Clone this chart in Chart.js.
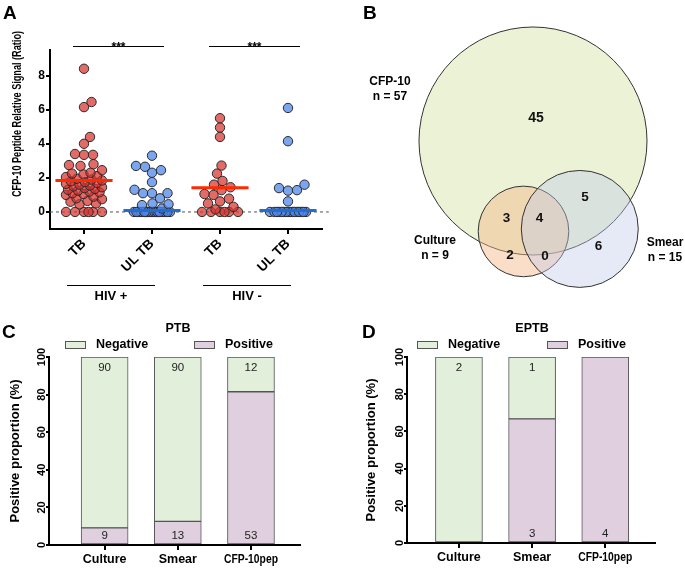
<!DOCTYPE html>
<html>
<head>
<meta charset="utf-8">
<script src="https://cdn.jsdelivr.net/npm/chart.js@4.4.1/dist/chart.umd.min.js"></script>
<style>
  html, body { margin: 0; padding: 0; background: #fff; }
  #wrap { position: relative; width: 685px; height: 570px; overflow: hidden; }
  canvas { position: absolute; }
</style>
</head>
<body>
<div id="wrap">
  <canvas id="chartA" width="340" height="310" style="left:0;top:0"></canvas>
  <canvas id="chartB" width="345" height="300" style="left:340px;top:0"></canvas>
  <canvas id="chartC" width="340" height="270" style="left:0;top:300px"></canvas>
  <canvas id="chartD" width="345" height="270" style="left:340px;top:300px"></canvas>
</div>
<script>
// ---- Panel A: CFP-10 peptide signal per group
const groupLabelsA = ['TB', 'UL TB', 'TB', 'UL TB'];
const hivLabels = ['HIV +', 'HIV -'];
const sigMarks = ['***', '***'];
const hivPosTB = [8.4, 6.45, 6.15, 4.4, 4.0, 3.4, 3.35, 3.35, 2.8, 2.75, 2.7, 2.45, 2.3, 2.25, 2.2, 2.1,
  2.05, 1.95, 1.9, 1.85, 1.8, 1.75, 1.7, 1.65, 1.6, 1.55, 1.5, 1.45, 1.4, 1.35, 1.3, 1.25, 1.2, 1.15,
  1.1, 1.05, 1.0, 0.9, 0.8, 0.75, 0.65, 0.6, 0.5, 0.45, 0, 0, 0, 0, 0, 0];
const hivPosUL = [3.3, 2.7, 2.65, 2.45, 2.3, 1.75, 1.3, 1.1, 1.1, 1.1, 0.8, 0.5, 0.45, 0.4, 0.2,
  0, 0, 0, 0, 0, 0, 0, 0, 0, 0, 0, 0, 0, 0, 0, 0, 0, 0, 0, 0, 0, 0, 0, 0, 0];
const hivNegTB = [5.5, 4.95, 4.4, 2.72, 2.25, 1.82, 1.6, 1.45, 1.28, 1.05, 1.0, 0.78, 0.62, 0.5, 0.3,
  0.15, 0, 0, 0, 0, 0, 0];
const hivNegUL = [6.1, 4.15, 1.6, 1.4, 1.28, 1.25, 0.62, 0, 0, 0, 0, 0, 0, 0, 0, 0, 0, 0, 0, 0, 0, 0, 0];
const meanLinesA = [1.85, 0.08, 1.42, 0.08];
const yTicksA = [0, 2, 4, 6, 8];

// ---- Panel B: Venn counts
const vennSets = ['CFP-10', 'Culture', 'Smear'];
const vennTotals = [57, 9, 15];
// CFP only, CFP+Culture, all three, CFP+Smear, Culture only, Culture+Smear, Smear only
const vennRegions = [45, 3, 4, 5, 2, 0, 6];

// ---- Panels C / D: stacked proportions
const testLabels = ['Culture', 'Smear', 'CFP-10pep'];
const pctTicks = [0, 20, 40, 60, 80, 100];
const ptbPositivePct = [9.1, 12.6, 81.5];
const ptbNegativePct = [90.9, 87.4, 18.5];
const ptbPositiveN = [9, 13, 53];
const ptbNegativeN = [90, 90, 12];
const eptbPositivePct = [0, 66.7, 100];
const eptbNegativePct = [100, 33.3, 0];
const eptbPositiveN = [0, 3, 4];
const eptbNegativeN = [2, 1, 0];

const FONT = '"Liberation Sans", Arial, Helvetica, sans-serif';
Chart.defaults.font.family = FONT;
Chart.defaults.color = '#000';
Chart.defaults.animation = false;

const bold = s => `bold ${s}px ${FONT}`;
function drawText(ctx, txt, x, y, font, o = {}) {
  ctx.save();
  ctx.font = font;
  ctx.fillStyle = o.color || '#000';
  ctx.textAlign = o.align || 'center';
  ctx.textBaseline = o.baseline || 'middle';
  ctx.translate(x, y);
  if (o.rotate) ctx.rotate(o.rotate);
  if (o.maxWidth) ctx.fillText(txt, 0, 0, o.maxWidth);
  else ctx.fillText(txt, 0, 0);
  ctx.restore();
}
function hline(ctx, x1, x2, y, w) {
  ctx.save();
  ctx.strokeStyle = '#000';
  ctx.lineWidth = w || 1;
  ctx.beginPath(); ctx.moveTo(x1, y); ctx.lineTo(x2, y); ctx.stroke();
  ctx.restore();
}

// simple beeswarm so dots don't overlap (capped width like GraphPad)
const PX_X = 68, PX_Y = 179 / 10.5, DOT_R = 4.7;
function swarm(values, center) {
  const placed = [];
  const cand = [0];
  for (let s = 0.5; s <= 18; s += 0.5) cand.push(s, -s);
  return values.slice().sort((a, b) => a - b).map(v => {
    const py = v * PX_Y;
    let best = 0, bestD = -1;
    for (const c of cand) {
      let dmin = Infinity;
      for (const p of placed) dmin = Math.min(dmin, Math.hypot(p.px - c, p.py - py));
      if (dmin >= 2 * DOT_R - 0.4) { best = c; break; }
      if (dmin > bestD) { bestD = dmin; best = c; }
    }
    placed.push({ px: best, py });
    return { x: center + best / PX_X, y: v };
  });
}

const axisLine = { display: true, color: '#000', width: 2 };
const tickGrid = len => ({ display: true, drawOnChartArea: false, drawTicks: true, tickLength: len, color: '#000', lineWidth: 2, offset: false });

// ================= Panel A =================
const groupsA = [hivPosTB, hivPosUL, hivNegTB, hivNegUL];
const RED_DOT = 'rgba(215,50,45,0.72)', BLUE_DOT = 'rgba(80,135,235,0.75)';
const datasetsA = [{
  data: [{ x: -0.5, y: 0 }, { x: 3.6, y: 0 }],
  showLine: true, borderColor: '#555', borderWidth: 1, borderDash: [3, 3], pointRadius: 0, order: 9, clip: false
}];
groupsA.forEach((vals, g) => {
  datasetsA.push({
    data: swarm(vals, g), pointRadius: DOT_R, pointBorderWidth: 1, pointBorderColor: '#2a2a2a',
    pointBackgroundColor: g % 2 ? BLUE_DOT : RED_DOT, order: 5
  });
  datasetsA.push({
    data: [{ x: g - 0.42, y: meanLinesA[g] }, { x: g + 0.42, y: meanLinesA[g] }],
    showLine: true, borderColor: g % 2 ? '#1f6fd0' : '#ff2a00', borderWidth: 3, pointRadius: 0, order: 1
  });
});

const panelAExtras = {
  id: 'panelAExtras',
  afterDraw(chart) {
    const { ctx, chartArea, scales: { x } } = chart;
    drawText(ctx, 'A', 3, 18.5, bold(19), { align: 'left', baseline: 'alphabetic' });
    drawText(ctx, 'CFP-10 Peptide Relative Signal (Ratio)', 18, 114, bold(12),
      { rotate: -Math.PI / 2, maxWidth: 166 });
    [[0, 1], [2, 3]].forEach((p, k) => {
      const x1 = x.getPixelForValue(p[0]) - 11, x2 = x.getPixelForValue(p[1]) + 12;
      const y = chartArea.top - 3.5;
      hline(ctx, x1, x2, y, 1);
      drawText(ctx, sigMarks[k], (x1 + x2) / 2, y + 4, bold(12), { baseline: 'alphabetic' });
    });
    hivLabels.forEach((lab, k) => {
      const x1 = x.getPixelForValue(2 * k) - 17, x2 = x.getPixelForValue(2 * k + 1) + 3;
      hline(ctx, x1, x2, 285.5, 1);
      drawText(ctx, lab, (x1 + x2) / 2, 299.5, bold(13), { baseline: 'alphabetic' });
    });
  }
};

new Chart(document.getElementById('chartA'), {
  type: 'scatter',
  data: { datasets: datasetsA },
  options: {
    responsive: false, events: [],
    layout: { padding: { top: 50, right: 18, left: 0, bottom: 0 } },
    plugins: { legend: { display: false }, tooltip: { enabled: false } },
    scales: {
      x: {
        type: 'linear', min: -0.5, max: 3.5, offset: false,
        afterBuildTicks: ax => { ax.ticks = groupLabelsA.map((_, i) => ({ value: i })); },
        afterFit: ax => { ax.height = 81; },
        ticks: { callback: v => groupLabelsA[v], minRotation: 45, maxRotation: 45, padding: 2, font: { size: 13.5, weight: 'bold' } },
        grid: tickGrid(5), border: axisLine
      },
      y: {
        min: -1, max: 9.5,
        afterBuildTicks: ax => { ax.ticks = yTicksA.map(v => ({ value: v })); },
        afterFit: ax => { ax.width = 50; },
        ticks: { padding: 1, font: { size: 12, weight: 'bold' } },
        grid: tickGrid(4), border: axisLine
      }
    }
  },
  plugins: [panelAExtras]
});

// ================= Panel B (area-proportional Venn) =================
function lensArea(r1, r2, d) {
  if (d >= r1 + r2) return 0;
  if (d <= Math.abs(r1 - r2)) return Math.PI * Math.min(r1, r2) ** 2;
  const a = r1 * r1 * Math.acos((d * d + r1 * r1 - r2 * r2) / (2 * d * r1));
  const b = r2 * r2 * Math.acos((d * d + r2 * r2 - r1 * r1) / (2 * d * r2));
  const c = 0.5 * Math.sqrt((-d + r1 + r2) * (d + r1 - r2) * (d - r1 + r2) * (d + r1 + r2));
  return a + b - c;
}
function solveDist(r1, r2, area) {
  let lo = Math.abs(r1 - r2), hi = r1 + r2;
  for (let i = 0; i < 60; i++) {
    const mid = (lo + hi) / 2;
    if (lensArea(r1, r2, mid) > area) lo = mid; else hi = mid;
  }
  return (lo + hi) / 2;
}
const VENN_K = 15.1;
const unitArea = Math.PI * VENN_K * VENN_K;
const radii = vennTotals.map(n => VENN_K * Math.sqrt(n));
const d01 = solveDist(radii[0], radii[1], (vennRegions[1] + vennRegions[2]) * unitArea);
const d02 = solveDist(radii[0], radii[2], (vennRegions[2] + vennRegions[3]) * unitArea);
const d12 = solveDist(radii[1], radii[2], (vennRegions[2] + vennRegions[5]) * unitArea);
const c0 = { x: 193, y: 141 };
const ang1 = 96 * Math.PI / 180;
const ang2 = ang1 - Math.acos((d01 * d01 + d02 * d02 - d12 * d12) / (2 * d01 * d02));
const vennCircles = [
  { x: c0.x, y: c0.y, r: radii[0] },
  { x: c0.x + d01 * Math.cos(ang1), y: c0.y + d01 * Math.sin(ang1), r: radii[1] },
  { x: c0.x + d02 * Math.cos(ang2), y: c0.y + d02 * Math.sin(ang2), r: radii[2] }
];
const setLabelPos = [[50, 82], [95, 241], [325, 243]];
const regionLabelPos = [[196, 118], [166.5, 218], [199.5, 218], [245, 197.5], [170, 255], [205, 256.5], [258.5, 246.5]];

const panelBExtras = {
  id: 'panelBExtras',
  afterDraw(chart) {
    const ctx = chart.ctx;
    drawText(ctx, 'B', 23, 19, bold(19), { align: 'left', baseline: 'alphabetic' });
    vennSets.forEach((s, i) => {
      const [lx, ly] = setLabelPos[i];
      drawText(ctx, s, lx, ly, bold(12));
      drawText(ctx, 'n = ' + vennTotals[i], lx, ly + 15, bold(12));
    });
    vennRegions.forEach((n, i) => {
      const [lx, ly] = regionLabelPos[i];
      drawText(ctx, String(n), lx, ly, bold(i === 0 ? 14 : 13.5), { color: '#111' });
    });
  }
};

new Chart(document.getElementById('chartB'), {
  type: 'bubble',
  data: {
    datasets: [{
      data: vennCircles,
      backgroundColor: ['rgb(236,242,214)', 'rgba(244,182,133,0.45)', 'rgba(193,203,233,0.4)'],
      borderColor: '#333', borderWidth: 1, hoverRadius: 0, clip: false
    }]
  },
  options: {
    responsive: false, events: [],
    layout: { padding: 0, autoPadding: false },
    plugins: { legend: { display: false }, tooltip: { enabled: false } },
    scales: {
      x: { type: 'linear', min: 0, max: 345, display: false },
      y: { type: 'linear', min: 0, max: 300, reverse: true, display: false }
    }
  },
  plugins: [panelBExtras]
});

// ================= Panels C and D =================
const NEG_FILL = '#e2efda', POS_FILL = '#e0cfdf';

function barPanel(id, cfg) {
  const extras = {
    id: 'extras' + id,
    afterDraw(chart) {
      const { ctx, chartArea: ca, scales: { x, y } } = chart;
      drawText(ctx, cfg.letter, cfg.letterX, 38, bold(19), { align: 'left', baseline: 'alphabetic' });
      drawText(ctx, cfg.title, cfg.titleX, 29, bold(12.5));
      [[NEG_FILL, 'Negative', cfg.legNeg], [POS_FILL, 'Positive', cfg.legPos]].forEach(([c, t, lx]) => {
        ctx.save();
        ctx.fillStyle = c; ctx.fillRect(lx, 41.5, 20, 7);
        ctx.strokeStyle = '#555'; ctx.lineWidth = 1; ctx.strokeRect(lx + 0.5, 41.5, 20, 7);
        ctx.restore();
        drawText(ctx, t, lx + 31, 45, bold(12.5), { align: 'left' });
      });
      drawText(ctx, 'Positive proportion (%)', cfg.yTitleX, (ca.top + ca.bottom) / 2, bold(13), { rotate: -Math.PI / 2 });
      pctTicks.forEach(v => drawText(ctx, String(v), ca.left - 7, y.getPixelForValue(v), bold(11), { rotate: -Math.PI / 2 }));
      testLabels.forEach((t, i) => drawText(ctx, t, x.getPixelForValue(i), ca.bottom + 15, bold(12.5), { maxWidth: 54 }));
      cfg.negN.forEach((n, i) => {
        if (n > 0) drawText(ctx, String(n), x.getPixelForValue(i), y.getPixelForValue(100) + 10.5, `11.5px ${FONT}`, { color: '#222' });
      });
      cfg.posN.forEach((n, i) => {
        if (n > 0) drawText(ctx, String(n), x.getPixelForValue(i), y.getPixelForValue(0) - 9.5, `11.5px ${FONT}`, { color: '#222' });
      });
    }
  };
  const bar = { borderColor: '#555', borderWidth: 1, borderSkipped: false, barThickness: 47 };
  return new Chart(document.getElementById(id), {
    type: 'bar',
    data: {
      datasets: [
        Object.assign({ label: 'Positive', data: cfg.posPct.map((v, i) => ({ x: i, y: v })), backgroundColor: POS_FILL }, bar),
        Object.assign({ label: 'Negative', data: cfg.negPct.map((v, i) => ({ x: i, y: v })), backgroundColor: NEG_FILL }, bar)
      ]
    },
    options: {
      responsive: false, events: [],
      layout: { padding: { top: cfg.top, right: cfg.right, left: 0, bottom: 0 } },
      plugins: { legend: { display: false }, tooltip: { enabled: false } },
      scales: {
        x: {
          type: 'linear', stacked: true, min: cfg.xMin, max: cfg.xMax, offset: false,
          afterBuildTicks: ax => { ax.ticks = testLabels.map((_, i) => ({ value: i })); },
          afterFit: ax => { ax.height = cfg.xAxisH; },
          ticks: { display: false },
          grid: tickGrid(5), border: axisLine
        },
        y: {
          stacked: true, min: 0, max: 100,
          afterBuildTicks: ax => { ax.ticks = pctTicks.map(v => ({ value: v })); },
          afterFit: ax => { ax.width = cfg.yAxisW; },
          ticks: { display: false },
          grid: tickGrid(3), border: axisLine
        }
      }
    },
    plugins: [extras]
  });
}

barPanel('chartC', {
  letter: 'C', letterX: 2, title: 'PTB', titleX: 178, legNeg: 65, legPos: 194, yTitleX: 15,
  top: 57, right: 40, yAxisW: 49, xAxisH: 25, xMin: -0.76, xMax: 2.67,
  posPct: ptbPositivePct, negPct: ptbNegativePct, posN: ptbPositiveN, negN: ptbNegativeN
});
barPanel('chartD', {
  letter: 'D', letterX: 22, title: 'EPTB', titleX: 192, legNeg: 77, legPos: 207, yTitleX: 31.5,
  top: 57, right: 30, yAxisW: 67, xAxisH: 27, xMin: -0.71, xMax: 2.68,
  posPct: eptbPositivePct, negPct: eptbNegativePct, posN: eptbPositiveN, negN: eptbNegativeN
});
</script>
</body>
</html>
